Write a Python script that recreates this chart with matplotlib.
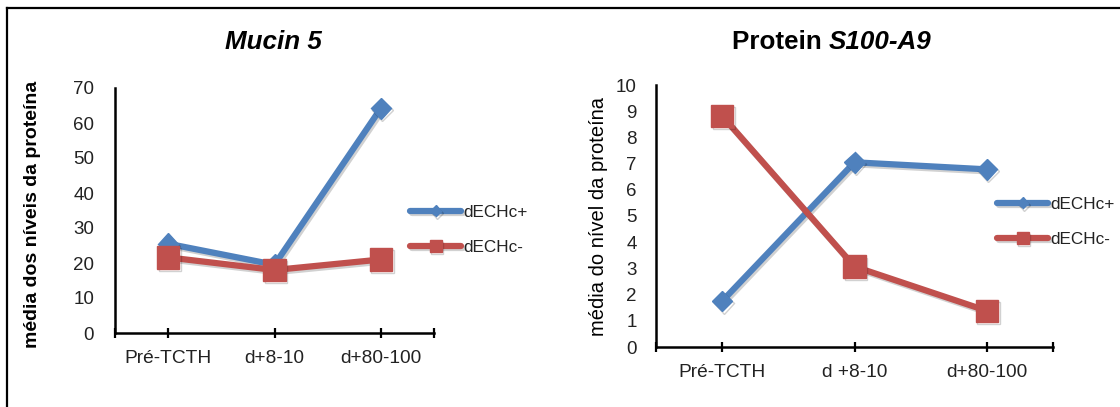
import matplotlib
matplotlib.use("Agg")
import matplotlib.pyplot as plt
from matplotlib.lines import Line2D
import matplotlib.patheffects as pe

plt.rcParams['font.family'] = ['Liberation Sans', 'DejaVu Sans']

categories_left = ["Pré-TCTH", "d+8-10", "d+80-100"]
categories_right = ["Pré-TCTH", "d +8-10", "d+80-100"]
series_names = ["dECHc+", "dECHc-"]

mucin_pos = [25.5, 19.5, 64.2]
mucin_neg = [21.6, 18.0, 21.0]

s100_pos = [1.75, 7.05, 6.78]
s100_neg = [8.82, 3.07, 1.38]

left_yticks = [0, 10, 20, 30, 40, 50, 60, 70]
right_yticks = list(range(0, 11))

BLUE = "#4F81BD"
RED = "#C0504D"

W, H = 1120, 407
fig = plt.figure(figsize=(W / 100, H / 100), dpi=100)


def ax_rect(x0, x1, ytop, ybot):
    return [x0 / W, (H - ybot) / H, (x1 - x0) / W, (ybot - ytop) / H]


shadow = [pe.SimpleLineShadow(offset=(1.2, -1.5), alpha=0.18, shadow_color='k'), pe.Normal()]


def draw(ax, cats, pos, neg, yticks, ylim, ypad, legend_xy, ylabel, ylabel_x, ylabel_y, ylabel_weight, ylabel_size):
    xs = list(range(len(cats)))
    ax.plot(xs, pos, color=BLUE, lw=4.5, marker='D', ms=10.5, mfc=BLUE, mec=BLUE,
            solid_joinstyle='round', solid_capstyle='round', label=series_names[0],
            path_effects=shadow, zorder=3)
    ax.plot(xs, neg, color=RED, lw=4.5, marker='s', ms=16, mfc=RED, mec=RED,
            solid_joinstyle='round', solid_capstyle='round', label=series_names[1],
            path_effects=shadow, zorder=4)
    ax.set_xlim(-0.5, len(cats) - 0.5)
    ax.set_ylim(*ylim)
    ax.set_yticks(yticks)
    ax.set_yticklabels([str(v) for v in yticks], fontsize=13.5, color='#222222')
    ax.set_xticks(xs)
    ax.set_xticklabels(cats, fontsize=13.8, color='#222222')
    ax.set_xticks([-0.5, len(cats) - 0.5], minor=True)
    for s in ['top', 'right']:
        ax.spines[s].set_visible(False)
    for s in ['left', 'bottom']:
        ax.spines[s].set_linewidth(1.8)
        ax.spines[s].set_color('black')
        ax.spines[s].set_capstyle('projecting')
    ax.tick_params(axis='x', which='both', direction='inout', length=6.5, width=1.6,
                   color='black', pad=9)
    ax.tick_params(axis='y', length=0, pad=ypad)
    ax.patch.set_alpha(0)
    leg = ax.legend(loc='center left', bbox_to_anchor=(legend_xy[0] / W, (H - legend_xy[1]) / H),
                    bbox_transform=fig.transFigure, frameon=False, fontsize=12.3,
                    handlelength=3.0, handletextpad=0.1, borderpad=0, borderaxespad=0,
                    labelspacing=1.2, markerscale=0.55, numpoints=1)
    for t in leg.get_texts():
        t.set_color('#222222')
    fig.text(ylabel_x / W, (H - ylabel_y) / H, ylabel, rotation=90, ha='center', va='center',
             fontsize=ylabel_size, fontweight=ylabel_weight, color='black')


ax1 = fig.add_axes(ax_rect(115, 434, 88, 333))
draw(ax1, categories_left, mucin_pos, mucin_neg, left_yticks, (0, 70), 15,
     (410, 230), "média dos níveis da proteína", 33, 214, 'bold', 14)

ax2 = fig.add_axes(ax_rect(656, 1053, 85, 347))
draw(ax2, categories_right, s100_pos, s100_neg, right_yticks, (0, 10), 14,
     (997, 222), "média do nível da proteína", 598, 216, 'normal', 14.5)

# titles
fig.text(273 / W, (H - 42) / H, "Mucin 5", ha='center', va='center', fontsize=18.7,
         fontstyle='italic', fontweight='bold', color='black')
t1 = fig.text(732 / W, (H - 42) / H, "Protein ", ha='left', va='center', fontsize=18.7,
              fontweight='bold', color='black')
fig.canvas.draw()
bb = t1.get_window_extent()
fig.text(bb.x1 / W, (H - 42) / H, "S100-A9", ha='left', va='center', fontsize=18.7,
         fontweight='bold', fontstyle='italic', color='black')

# border
fig.add_artist(Line2D([7 / W, 7 / W], [0, (H - 8) / H], transform=fig.transFigure,
                      color='black', lw=1.6))
fig.add_artist(Line2D([7 / W, 1], [(H - 8) / H, (H - 8) / H], transform=fig.transFigure,
                      color='black', lw=1.6))

fig.savefig("out.png", dpi=100)
